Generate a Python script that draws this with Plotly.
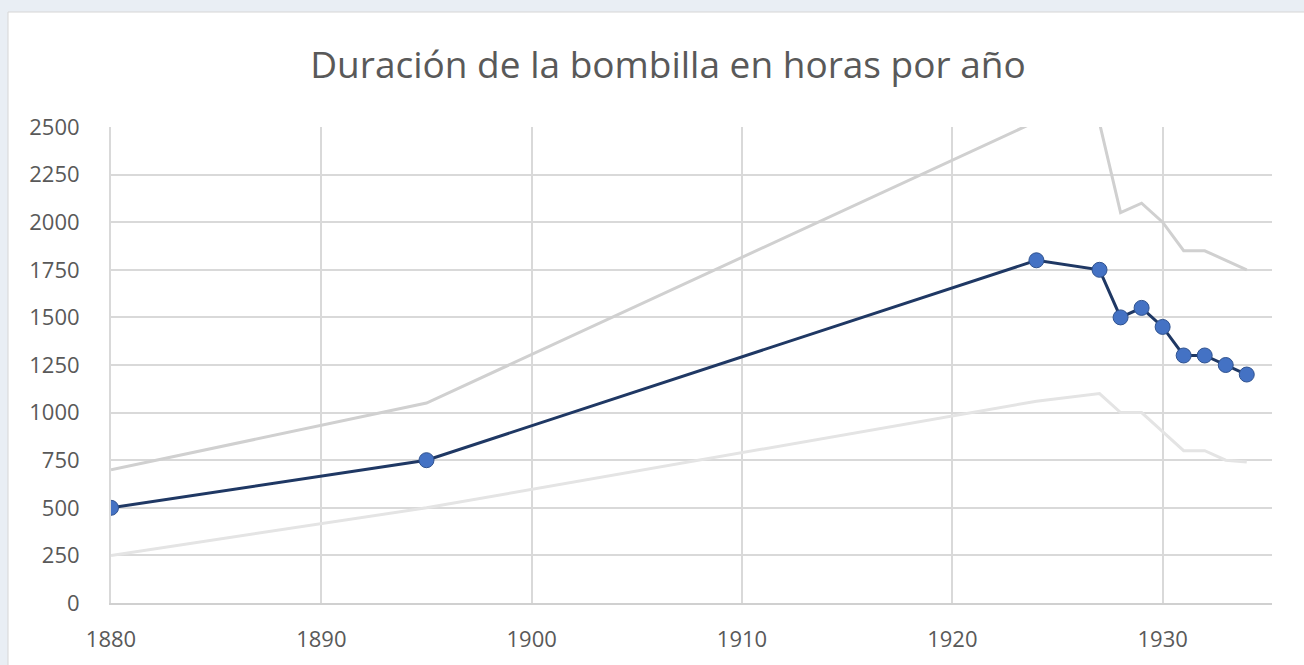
import plotly.graph_objects as go

years = [1880, 1895, 1924, 1927, 1928, 1929, 1930, 1931, 1932, 1933, 1934]
hours = [500, 750, 1800, 1750, 1500, 1550, 1450, 1300, 1300, 1250, 1200]
upper = [700, 1050, 2530, 2520, 2050, 2100, 2000, 1850, 1850, 1800, 1750]
lower = [250, 500, 1060, 1100, 1000, 1000, 900, 800, 800, 750, 740]

x_ticks = [1880, 1890, 1900, 1910, 1920, 1930]
y_ticks = [0, 250, 500, 750, 1000, 1250, 1500, 1750, 2000, 2250, 2500]

W, H = 1304, 665
L, R, T, B = 111, 32, 127, 62
pw, ph = W - L - R, H - T - B

def px(x):
    return (x - L) / pw

def py(y):
    return (H - B - y) / ph

fig = go.Figure()
fig.add_trace(go.Scatter(x=years, y=upper, mode="lines",
                         line=dict(color="#d0d0d0", width=3), hoverinfo="skip"))
fig.add_trace(go.Scatter(x=years, y=lower, mode="lines",
                         line=dict(color="#e4e4e4", width=3), hoverinfo="skip"))
fig.add_trace(go.Scatter(x=years, y=hours, mode="lines+markers",
                         line=dict(color="#1f3864", width=3),
                         marker=dict(size=15, color="#4472c4",
                                     line=dict(color="#2f528f", width=1))))

fig.add_shape(type="rect", xref="paper", yref="paper",
              x0=px(8), x1=px(1310), y0=py(670), y1=py(12),
              fillcolor="white", line=dict(color="#d6d6d6", width=1), layer="below")

fig.update_layout(
    width=W, height=H,
    margin=dict(l=L, r=R, t=T, b=B),
    paper_bgcolor="#e9eef4",
    plot_bgcolor="white",
    showlegend=False,
    font=dict(family="Open Sans", color="#595959", size=22),
    title=dict(text="Duración de la bombilla en horas por año",
               x=668 / W, xref="container", xanchor="center",
               y=(H - 65) / H, yanchor="middle",
               font=dict(family="Open Sans", size=37, color="#595959")),
    xaxis=dict(range=[1880, 1935.2], tickvals=x_ticks, showgrid=True,
               gridcolor="#d9d9d9", gridwidth=2, zeroline=False,
               showline=True, linecolor="#d0d0d0", linewidth=2,
               ticks="", ticklabelstandoff=16),
    yaxis=dict(range=[0, 2500], tickvals=y_ticks, showgrid=True,
               gridcolor="#d9d9d9", gridwidth=2, zeroline=False,
               showline=True, linecolor="#d9d9d9", linewidth=2,
               ticks="", ticklabelstandoff=25),
)

fig.write_html("out.html", config={"displayModeBar": False},
               post_script="document.body.style.margin='0';document.body.style.overflow='hidden';")
